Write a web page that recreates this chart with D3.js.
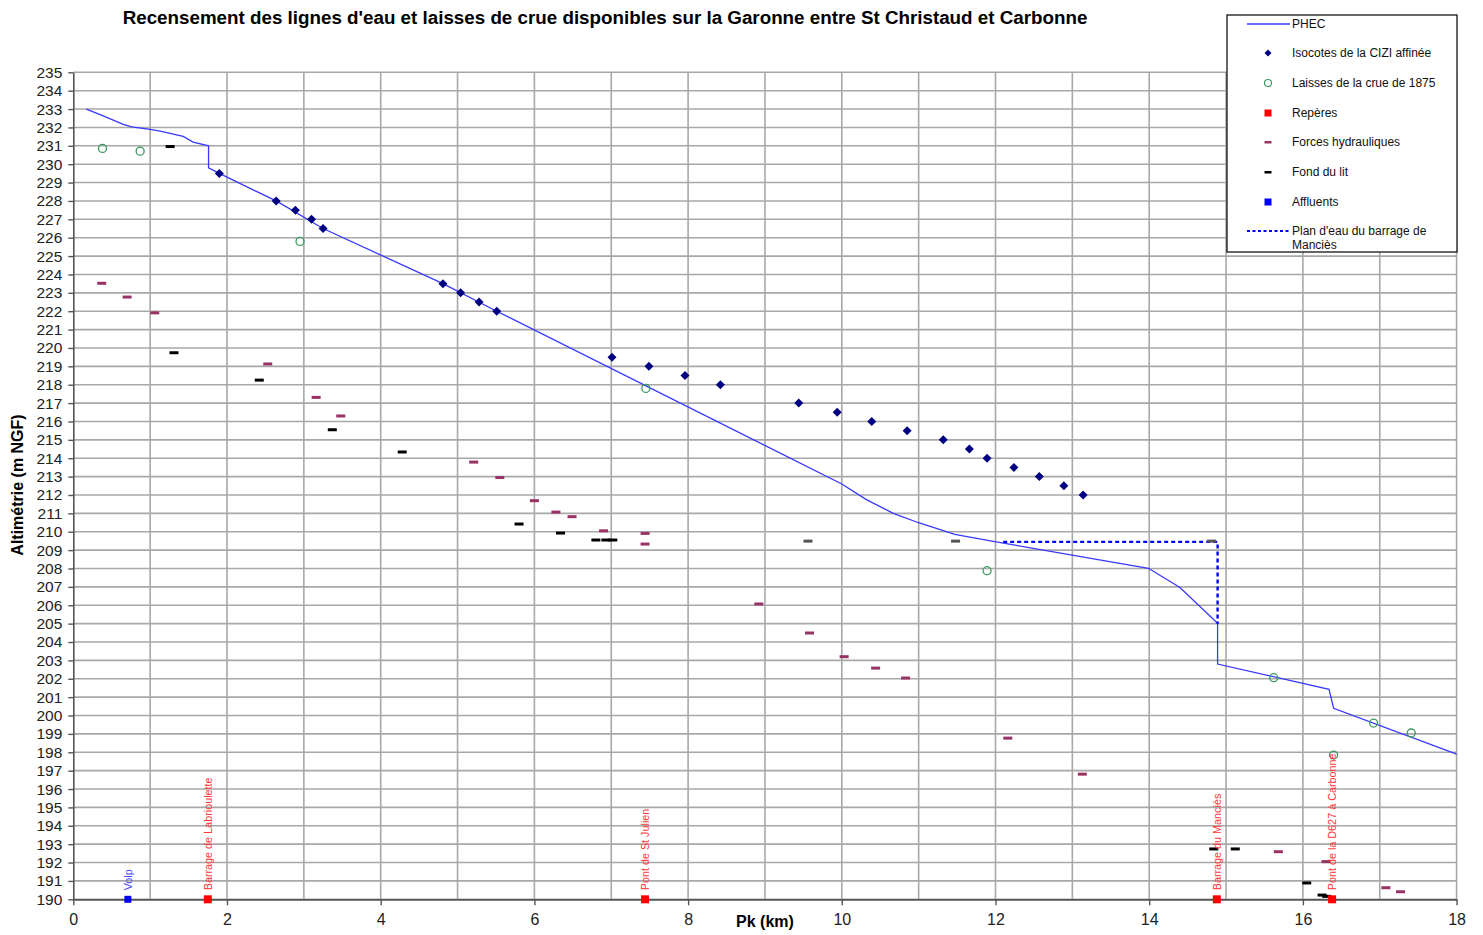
<!DOCTYPE html>
<html><head><meta charset="utf-8">
<script src="https://cdn.jsdelivr.net/npm/d3@7"></script>
<style>body{margin:0;background:#fff;}svg{display:block;font-family:"Liberation Sans",Arial,sans-serif;}</style>
</head><body><svg id="c" width="1483" height="935"></svg>
<script>
// PHEC line
const phecPk  = [0.17,0.39,0.65,0.76,1.0,1.13,1.43,1.56,1.76,1.76,1.90,2.64,3.25,4.81,5.51,10.0,10.32,10.67,11.0,11.47,11.99,13.99,14.40,14.89,14.89,16.34,16.40,18.0];
const phecAlt = [233.0,232.63,232.17,232.03,231.9,231.8,231.51,231.2,231.0,229.8,229.5,228.0,226.5,223.5,222.0,212.6,211.75,211.0,210.49,209.86,209.46,208.01,206.97,205.02,202.8,201.43,200.39,197.9];
// Isocotes de la CIZI affinée
const isoPk  = [1.90,2.64,2.89,3.10,3.25,4.81,5.04,5.28,5.51,7.01,7.49,7.96,8.42,9.44,9.94,10.39,10.85,11.32,11.66,11.89,12.24,12.57,12.89,13.14];
const isoAlt = [229.5,228.0,227.5,227.0,226.5,223.5,223.0,222.5,222.0,219.5,219.0,218.5,218.0,217.0,216.5,216.0,215.5,215.0,214.5,214.0,213.5,213.0,212.5,212.0];
// Laisses de la crue de 1875
const laissePk  = [0.38,0.87,2.95,7.45,11.89,15.62,16.40,16.92,17.41];
const laisseAlt = [230.86,230.71,225.8,217.8,207.88,202.06,197.85,199.59,199.05];
// Repères
const repPk    = [1.75,7.44,14.88,16.38];
const repAlt   = [190,190,190,190];
const repLabel = ["Barrage de Labrioulette","Pont de St Julien","Barrage du Manciès","Pont de la D627 à Carbonne"];
// Forces hydrauliques
const fhPk  = [0.37,0.70,1.06,2.53,3.16,3.48,5.21,5.55,6.00,6.28,6.49,6.90,7.44,7.44,8.92,9.58,10.03,10.44,10.83,12.16,13.13,15.68,16.30,17.08,17.27];
const fhAlt = [223.52,222.77,221.91,219.13,217.31,216.3,213.79,212.95,211.69,211.07,210.82,210.05,209.91,209.33,206.07,204.49,203.2,202.58,202.04,198.77,196.81,192.59,192.05,190.63,190.41];
// Fond du lit
const fondPk  = [1.26,1.31,2.42,3.37,4.28,5.80,6.34,6.80,6.93,7.02,14.84,15.12,16.05,16.25,16.31];
const fondAlt = [230.96,219.74,218.25,215.55,214.34,210.42,209.93,209.55,209.55,209.55,192.74,192.74,190.89,190.23,190.16];
// Fond du lit (relevés grisés)
const fondGrisPk  = [9.56,11.48,14.81];
const fondGrisAlt = [209.49,209.49,209.49];
// Affluents
const affPk = [0.71], affAlt = [190], affLabel = ["Volp"];
// Plan d'eau du barrage de Manciès
const planPk  = [12.1,14.89,14.89];
const planAlt = [209.45,209.45,205.0];
// Ticks
const yTicks = d3.range(190,236,1);
const xTicks = [0,2,4,6,8,10,12,14,16,18];
const legendLabels = ["PHEC","Isocotes de la CIZI affinée","Laisses de la crue de 1875","Repères","Forces hydrauliques","Fond du lit","Affluents","Plan d'eau du barrage de Manciès"];

const svg = d3.select("#c");
const x = d3.scaleLinear().domain([0,18]).range([73.3,1456.6]);
const y = d3.scaleLinear().domain([190,235]).range([899.3,72.3]);

// grid
const g = svg.append("g");
g.selectAll(".hg").data(yTicks).enter().append("line")
 .attr("x1",x(0)).attr("x2",x(18)).attr("y1",d=>y(d)).attr("y2",d=>y(d))
 .attr("stroke","#a8a8a8").attr("stroke-width",1.6);
g.selectAll(".vg").data(d3.range(1,19)).enter().append("line")
 .attr("x1",d=>x(d)).attr("x2",d=>x(d)).attr("y1",y(190)).attr("y2",y(235))
 .attr("stroke","#a8a8a8").attr("stroke-width",1.6);

// axes
const ya = svg.append("g").attr("transform",`translate(${x(0)},0)`)
 .call(d3.axisLeft(y).tickValues(yTicks).tickSize(5).tickSizeOuter(0).tickPadding(6).tickFormat(d3.format("d")));
ya.select(".domain").attr("stroke","#555").attr("stroke-width",1.6);
ya.selectAll(".tick line").attr("stroke","#555").attr("stroke-width",1.4);
ya.selectAll("text").attr("font-size",15.5).attr("fill","#222").attr("font-family","Liberation Sans, Arial");
const xa = svg.append("g").attr("transform",`translate(0,${y(190)})`)
 .call(d3.axisBottom(x).tickValues(xTicks).tickSize(6).tickSizeOuter(0).tickPadding(8).tickFormat(d3.format("d")));
xa.select(".domain").attr("stroke","#555").attr("stroke-width",1.8);
xa.selectAll(".tick line").attr("stroke","#555").attr("stroke-width",1.4);
xa.selectAll("text").attr("font-size",16).attr("fill","#222").attr("font-family","Liberation Sans, Arial");

// PHEC
const line = d3.line().x(d=>x(d[0])).y(d=>y(d[1]));
svg.append("path").datum(d3.zip(phecPk,phecAlt)).attr("d",line)
 .attr("fill","none").attr("stroke","#3838ff").attr("stroke-width",1.3);
// plan d'eau
svg.append("path").datum(d3.zip(planPk,planAlt)).attr("d",line)
 .attr("fill","none").attr("stroke","#0000ff").attr("stroke-width",2.4).attr("stroke-dasharray","4,3");

// dashes
function dashes(pk,alt,color){
  svg.append("g").selectAll("rect").data(d3.zip(pk,alt)).enter().append("rect")
   .attr("x",d=>x(d[0])-4.5).attr("y",d=>y(d[1])-1.5).attr("width",9).attr("height",3).attr("fill",color);
}
dashes(fhPk,fhAlt,"#993366");
dashes(fondPk,fondAlt,"#000");
dashes(fondGrisPk,fondGrisAlt,"#555");

// diamonds
svg.append("g").selectAll("path").data(d3.zip(isoPk,isoAlt)).enter().append("path")
 .attr("d","M0,-4.5L4.5,0L0,4.5L-4.5,0Z").attr("transform",d=>`translate(${x(d[0])},${y(d[1])})`).attr("fill","#000080");
// circles
svg.append("g").selectAll("circle").data(d3.zip(laissePk,laisseAlt)).enter().append("circle")
 .attr("cx",d=>x(d[0])).attr("cy",d=>y(d[1])).attr("r",4).attr("fill","none").attr("stroke","#3a9a60").attr("stroke-width",1.3);

// repères
const rep = svg.append("g");
rep.selectAll("rect").data(d3.range(repPk.length)).enter().append("rect")
 .attr("x",i=>x(repPk[i])-4).attr("y",i=>y(repAlt[i])-4).attr("width",8).attr("height",8).attr("fill","#ff0000");
rep.selectAll("text").data(d3.range(repPk.length)).enter().append("text")
 .attr("transform",i=>`translate(${x(repPk[i])+3.8},${y(repAlt[i])-9}) rotate(-90)`)
 .attr("font-size",10.8).attr("fill","#ff3838").text(i=>repLabel[i]);
// affluents
const aff = svg.append("g");
aff.selectAll("rect").data(d3.range(affPk.length)).enter().append("rect")
 .attr("x",i=>x(affPk[i])-3.5).attr("y",i=>y(affAlt[i])-3.5).attr("width",7).attr("height",7).attr("fill","#0000ff");
aff.selectAll("text").data(d3.range(affPk.length)).enter().append("text")
 .attr("transform",i=>`translate(${x(affPk[i])+3.8},${y(affAlt[i])-9}) rotate(-90)`)
 .attr("font-size",10.8).attr("fill","#4848ff").text(i=>affLabel[i]);

// titles
svg.append("text").attr("x",605).attr("y",24).attr("text-anchor","middle").attr("font-size",18.8).attr("font-weight","bold")
 .text("Recensement des lignes d'eau et laisses de crue disponibles sur la Garonne entre St Christaud et Carbonne");
svg.append("text").attr("transform","translate(23,485) rotate(-90)").attr("text-anchor","middle").attr("font-size",16).attr("font-weight","bold")
 .text("Altimétrie (m NGF)");
svg.append("text").attr("x",765).attr("y",927).attr("text-anchor","middle").attr("font-size",16).attr("font-weight","bold").text("Pk (km)");

// legend
const lg = svg.append("g");
lg.append("rect").attr("x",1227).attr("y",15).attr("width",230).attr("height",237).attr("fill","#fff").attr("stroke","#000").attr("stroke-width",1.2);
const ly = [24,53,83,113,142,172,202,231];
const sx = 1268, tx = 1292;
lg.append("line").attr("x1",1247).attr("x2",1290).attr("y1",ly[0]).attr("y2",ly[0]).attr("stroke","#3838ff").attr("stroke-width",1.3);
lg.append("path").attr("d","M0,-3.5L3.5,0L0,3.5L-3.5,0Z").attr("transform",`translate(${sx},${ly[1]})`).attr("fill","#000080");
lg.append("circle").attr("cx",sx).attr("cy",ly[2]).attr("r",3.5).attr("fill","none").attr("stroke","#3a9a60").attr("stroke-width",1.2);
lg.append("rect").attr("x",sx-3.5).attr("y",ly[3]-3.5).attr("width",7).attr("height",7).attr("fill","#ff0000");
lg.append("rect").attr("x",sx-3.5).attr("y",ly[4]-1).attr("width",7).attr("height",2.5).attr("fill","#993366");
lg.append("rect").attr("x",sx-3.5).attr("y",ly[5]-1).attr("width",7).attr("height",2.5).attr("fill","#000");
lg.append("rect").attr("x",sx-3.5).attr("y",ly[6]-3.5).attr("width",7).attr("height",7).attr("fill","#0000ff");
lg.append("line").attr("x1",1247).attr("x2",1290).attr("y1",ly[7]).attr("y2",ly[7]).attr("stroke","#0000ff").attr("stroke-width",2).attr("stroke-dasharray","3,2.5");
legendLabels.forEach((t,i)=>{
  if(i<7){
    lg.append("text").attr("x",tx).attr("y",ly[i]+4).attr("font-size",12).attr("fill","#111").text(t);
  } else {
    lg.append("text").attr("x",tx).attr("y",ly[i]+4).attr("font-size",12).attr("fill","#111").text("Plan d'eau du barrage de");
    lg.append("text").attr("x",tx).attr("y",ly[i]+18).attr("font-size",12).attr("fill","#111").text("Manciès");
  }
});
</script></body></html>
